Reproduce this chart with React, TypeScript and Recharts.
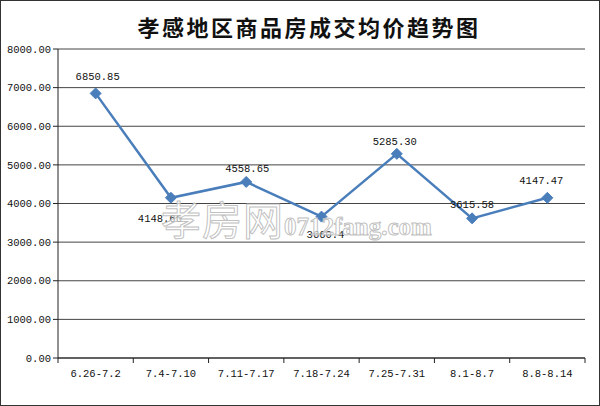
import { CartesianGrid, LabelList, Line, LineChart, XAxis, YAxis } from 'recharts'

const periods = ['6.26-7.2', '7.4-7.10', '7.11-7.17', '7.18-7.24', '7.25-7.31', '8.1-8.7', '8.8-8.14']
const avgPrice = [6850.85, 4148.66, 4558.65, 3660.4, 5285.3, 3615.58, 4147.47]
const priceLabels = ['6850.85', '4148.66', '4558.65', '3660.4', '5285.30', '3615.58', '4147.47']
const yTicks = [0, 1000, 2000, 3000, 4000, 5000, 6000, 7000, 8000]

// label offsets relative to the point (dx, dy), picked by eye
const labelShift: [number, number][] = [
  [2, -17],
  [-11, 20],
  [1, -14],
  [4, 17],
  [-2, -13],
  [0, -14],
  [-6, -18],
]

const W = 600
const H = 406
const M = { top: 49, right: 15, left: 0, bottom: 18 }
const Y_W = 58
const X_H = 30
const plotW = W - M.left - M.right - Y_W
const step = plotW / periods.length
const axisY = H - M.bottom - X_H

const mono = '"Liberation Mono", "DejaVu Sans Mono", monospace'
const ink = '#222'
const blue = '#4a7ebb'

const data = periods.map((p, i) => ({ period: p, price: avgPrice[i], label: priceLabels[i] }))

function Diamond(props: any) {
  const { cx, cy } = props
  if (cx == null || cy == null) return null
  const r = 5.5
  return <polygon points={`${cx},${cy - r} ${cx + r},${cy} ${cx},${cy + r} ${cx - r},${cy}`} fill={blue} stroke={blue} />
}

function PeriodTick(props: any) {
  const { x, payload, index } = props
  const left = x - step / 2
  return (
    <g>
      <line x1={left} x2={left} y1={axisY} y2={axisY + 5} stroke={ink} />
      {index === periods.length - 1 && <line x1={x + step / 2} x2={x + step / 2} y1={axisY} y2={axisY + 5} stroke={ink} />}
      <text x={x} y={axisY + 19} textAnchor="middle" fontFamily={mono} fontSize={10.5} fill="#111">
        {payload.value}
      </text>
    </g>
  )
}

function PriceLabel(props: any) {
  const { x, y, index } = props
  const [dx, dy] = labelShift[index] ?? [0, -14]
  return (
    <text x={x + dx} y={y + dy} dy={4} textAnchor="middle" fontFamily={mono} fontSize={10.5} fill="#111">
      {priceLabels[index]}
    </text>
  )
}

export default function App() {
  return (
    <div
      style={{
        position: 'fixed',
        left: 0,
        top: 0,
        width: W,
        height: H,
        boxSizing: 'border-box',
        border: '1px solid #333',
        background: '#fff',
        overflow: 'hidden',
      }}
    >
      <div
        style={{
          position: 'absolute',
          top: 9,
          left: 0,
          width: 616,
          textAlign: 'center',
          fontFamily: '"Noto Sans CJK SC", sans-serif',
          fontWeight: 700,
          fontSize: 22,
          letterSpacing: 2.5,
          color: '#111',
          lineHeight: '32px',
        }}
      >
        孝感地区商品房成交均价趋势图
      </div>
      <div style={{ position: 'absolute', left: -1, top: -1 }}>
        <LineChart width={W} height={H} data={data} margin={M}>
          <CartesianGrid vertical={false} stroke="#444" strokeWidth={1} />
          <XAxis
            dataKey="period"
            interval={0}
            height={X_H}
            padding={{ left: step / 2, right: step / 2 }}
            axisLine={{ stroke: ink }}
            tickLine={false}
            tick={<PeriodTick />}
          />
          <YAxis
            width={Y_W}
            domain={[0, 8000]}
            ticks={yTicks}
            interval={0}
            tickFormatter={(v: number) => v.toFixed(2)}
            axisLine={{ stroke: ink }}
            tickLine={{ stroke: ink }}
            tickSize={5}
            tickMargin={2}
            tick={{ fontFamily: mono, fontSize: 10.5, fill: '#111' }}
          />
          <Line
            dataKey="price"
            stroke={blue}
            strokeWidth={2.5}
            dot={<Diamond />}
            activeDot={false}
            isAnimationActive={false}
          >
            <LabelList dataKey="label" content={<PriceLabel />} />
          </Line>
        </LineChart>
      </div>
      <div
        style={{
          position: 'absolute',
          left: 160,
          top: 195,
          fontFamily: '"Noto Sans CJK SC", sans-serif',
          fontSize: 40,
          color: 'rgba(255,255,255,0.65)',
          WebkitTextStroke: '1px rgba(185,185,185,0.9)',
          whiteSpace: 'nowrap',
          lineHeight: '44px',
          pointerEvents: 'none',
        }}
      >
        <span style={{ letterSpacing: 1 }}>孝房网</span>
        <span style={{ fontFamily: '"Liberation Serif", serif', fontWeight: 700, fontSize: 25 }}>0712fang.com</span>
      </div>
    </div>
  )
}
